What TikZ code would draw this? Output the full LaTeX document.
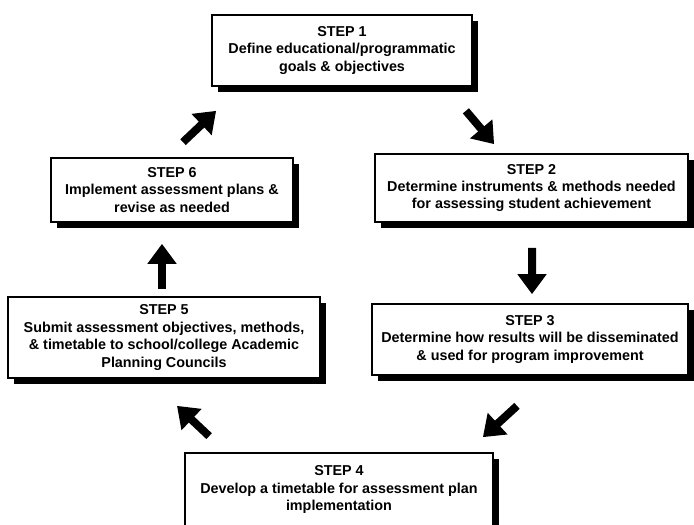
\documentclass[tikz,border=0pt]{standalone}
\usepackage{fontspec}
\setmainfont{Liberation Sans}
\usetikzlibrary{calc,shadows,arrows.meta}

\begin{document}
\begin{tikzpicture}[x=0.025cm,y=-0.025cm,
                    main node/.style={rectangle,draw,line width=1.2pt,fill=white,inner sep=0pt,align=center,
                      font=\bfseries\fontsize{10.2}{12.4}\selectfont,
                      drop shadow={opacity=1,fill=black,shadow xshift=0.15cm,shadow yshift=-0.15cm}},
                    big arrow/.style={line width=0.2cm,-{Triangle[length=0.5cm,width=0.7cm]}}]

  \clip (0,0) rectangle (694,524);

  \node[main node,minimum width=6.5cm,minimum height=1.775cm] (1) at (342,50.5)
    {STEP 1\\Define educational/programmatic\\goals \& objectives};
  \node[main node,minimum width=7.825cm,minimum height=1.7cm] (2) at (531.5,188)
    {STEP 2\\Determine instruments \& methods needed\\for assessing student achievement};
  \node[main node,minimum width=7.9cm,minimum height=1.775cm] (3) at (530,339.5)
    {STEP 3\\Determine how results will be disseminated\\\& used for program improvement};
  \node[main node,minimum width=7.7cm,minimum height=1.825cm] (4) at (339,489.5)
    {STEP 4\\Develop a timetable for assessment plan\\implementation};
  \node[main node,minimum width=7.8cm,minimum height=2.025cm] (5) at (164,337.5)
    {STEP 5\\Submit assessment objectives, methods,\\\& timetable to school/college Academic\\Planning Councils};
  \node[main node,minimum width=6.05cm,minimum height=1.6cm] (6) at (172,190)
    {STEP 6\\Implement assessment plans \&\\revise as needed};

  % cycle arrows
  \draw[big arrow] ($(1.south east)+(-7,24)$) -- ($(2.north west)+(120,-9)$);
  \draw[big arrow] ($(2.south)+(0.5,25)$) -- ($(3.north)+(2,-9)$);
  \draw[big arrow] ($(3.south)+(-13,30)$) -- ($(4.north east)+(-11,-15)$);
  \draw[big arrow] ($(4.north west)+(25,-16)$) -- ($(5.south)+(13,27)$);
  \draw[big arrow] ($(5.north)+(-2,-7)$) -- ($(6.south)+(-10,21)$);
  \draw[big arrow] ($(6.north)+(11,-15)$) -- ($(1.south west)+(5,24)$);
\end{tikzpicture}
\end{document}
